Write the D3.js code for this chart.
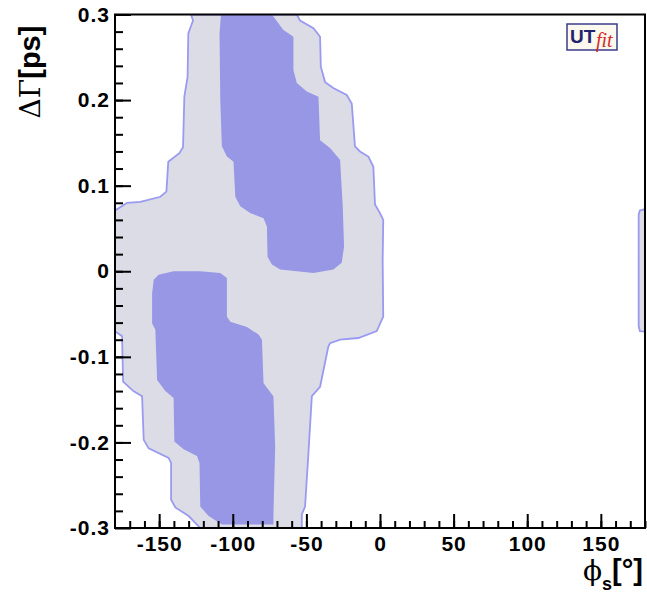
<!DOCTYPE html>
<html>
<head>
<meta charset="utf-8">
<script src="https://cdn.jsdelivr.net/npm/d3@7/dist/d3.min.js"></script>
<style>
  body { margin: 0; background: #fff; }
  text { font-family: "Liberation Sans", Arial, sans-serif; }
</style>
</head>
<body>
<div id="viz"></div>
<script>
// contour outlines as [phi_s (deg), DeltaGamma (ps^-1)]
var outerRegion = [
  [-128.4, 0.300], [-127.0, 0.293], [-130.2, 0.278], [-130.7, 0.227], [-132.9, 0.204],
  [-133.8, 0.145], [-136.3, 0.138], [-143.8, 0.128], [-145.1, 0.093], [-149.2, 0.087],
  [-162.8, 0.081], [-171.8, 0.080], [-179.0, 0.072], [-180, 0.071], [-180, -0.070],
  [-175.2, -0.076], [-174.5, -0.129], [-167.5, -0.140], [-161.6, -0.146], [-160.5, -0.197],
  [-157.1, -0.207], [-143.6, -0.218], [-141.9, -0.224], [-141.9, -0.267], [-139.0, -0.276],
  [-130.0, -0.286], [-123.2, -0.298], [-122.0, -0.300],
  [-53.1, -0.300], [-53.1, -0.284], [-50.9, -0.275], [-48.6, -0.212], [-46.3, -0.146],
  [-40.7, -0.135], [-35.1, -0.088], [-33.9, -0.084], [-27.1, -0.080], [-14.7, -0.078],
  [-2.2, -0.070], [2.2, -0.053], [1.8, 0.013], [2.2, 0.060], [0.0, 0.068],
  [-3.4, 0.078], [-4.5, 0.122], [-7.9, 0.134], [-13.6, 0.140], [-17.0, 0.146],
  [-19.2, 0.196], [-22.6, 0.206], [-31.7, 0.214], [-37.3, 0.221], [-40.2, 0.239],
  [-40.7, 0.274], [-45.2, 0.284], [-54.3, 0.293], [-56.5, 0.300]
];
var edgeRegion = [
  [180, 0.0725], [176.5, 0.071], [175.7, 0.066], [175.7, -0.064], [176.5, -0.070], [180, -0.0705]
];
var innerUpper = [
  [-108.0, 0.300], [-109.0, 0.278], [-108.5, 0.200], [-107.4, 0.146], [-104.0, 0.134],
  [-99.5, 0.128], [-98.3, 0.087], [-94.9, 0.076], [-88.2, 0.068], [-79.1, 0.062],
  [-76.8, 0.052], [-76.4, 0.017], [-73.4, 0.008], [-67.8, 0.002], [-45.2, -0.002],
  [-31.7, 0.002], [-26.0, 0.010], [-24.4, 0.029], [-25.3, 0.076], [-27.1, 0.130],
  [-33.9, 0.144], [-40.7, 0.153], [-41.8, 0.204], [-49.7, 0.210], [-56.5, 0.220],
  [-58.8, 0.235], [-58.8, 0.274], [-65.6, 0.282], [-73.4, 0.300]
];
var innerLower = [
  [-150.4, -0.004], [-153.7, -0.010], [-154.8, -0.026], [-154.8, -0.061], [-152.6, -0.068],
  [-151.4, -0.127], [-145.8, -0.140], [-140.2, -0.148], [-139.7, -0.199], [-133.4, -0.208],
  [-124.3, -0.216], [-122.6, -0.224], [-122.1, -0.275], [-116.4, -0.286], [-107.4, -0.296],
  [-72.4, -0.296], [-72.4, -0.286], [-71.2, -0.205], [-72.4, -0.146], [-79.1, -0.131],
  [-80.2, -0.080], [-82.5, -0.074], [-90.4, -0.065], [-101.7, -0.059], [-104.0, -0.053],
  [-104.0, -0.008], [-108.5, -0.002], [-122.1, 0.000], [-140.2, 0.000]
];

var xMajor = [-150, -100, -50, 0, 50, 100, 150];
var xLabels = ["-150", "-100", "-50", "0", "50", "100", "150"];
var xMinor = d3.range(-170, 181, 10);
var yMajor = [-0.3, -0.2, -0.1, 0, 0.1, 0.2, 0.3];
var yLabels = ["-0.3", "-0.2", "-0.1", "0", "0.1", "0.2", "0.3"];
var yMinor = d3.range(-14, 15).map(function (k) { return k * 0.02; });

var width = 647, height = 596;
var mLeft = 115, mRight = 645, mTop = 14.5, mBottom = 528;

var svg = d3.select("#viz").append("svg")
  .attr("width", width).attr("height", height);

var x = d3.scaleLinear().domain([-180, 180]).range([mLeft, mRight]);
var y = d3.scaleLinear().domain([-0.3, 0.3]).range([mBottom, mTop]);

var line = d3.line()
  .x(function (d) { return x(d[0]); })
  .y(function (d) { return y(d[1]); })
  .curve(d3.curveLinearClosed);

svg.append("defs").append("clipPath").attr("id", "frame")
  .append("rect").attr("x", mLeft).attr("y", mTop)
  .attr("width", mRight - mLeft).attr("height", mBottom - mTop);

var g = svg.append("g").attr("clip-path", "url(#frame)");

[outerRegion, edgeRegion].forEach(function (r) {
  g.append("path").attr("d", line(r))
    .attr("fill", "#dcdce6").attr("stroke", "#9a9af0").attr("stroke-width", 1.8);
});
[innerUpper, innerLower].forEach(function (r) {
  g.append("path").attr("d", line(r)).attr("fill", "#9797e6");
});

// axes with inward ticks
svg.append("g").attr("transform", "translate(0," + mBottom + ")")
  .call(d3.axisBottom(x).tickValues(xMinor).tickSize(-7).tickFormat(""));
svg.append("g").attr("transform", "translate(0," + mBottom + ")")
  .call(d3.axisBottom(x).tickValues(xMajor).tickSize(-14).tickPadding(8).tickSizeOuter(0)
    .tickFormat(function (d, i) { return xLabels[i]; }));

svg.append("g").attr("transform", "translate(" + mLeft + ",0)")
  .call(d3.axisLeft(y).tickValues(yMinor).tickSize(-8).tickFormat(""));
svg.append("g").attr("transform", "translate(" + mLeft + ",0)")
  .call(d3.axisLeft(y).tickValues(yMajor).tickSize(-16).tickPadding(5).tickSizeOuter(0)
    .tickFormat(function (d, i) { return yLabels[i]; }));

svg.selectAll(".domain").remove();
svg.selectAll(".tick line").attr("stroke", "#000").attr("stroke-width", 2);
svg.selectAll(".tick text").attr("fill", "#000")
  .style("font-family", "'Liberation Sans', Arial, sans-serif")
  .style("font-size", "21px").style("font-weight", "bold")
  .style("letter-spacing", "1px");

svg.append("rect").attr("x", mLeft).attr("y", mTop)
  .attr("width", mRight - mLeft).attr("height", mBottom - mTop)
  .attr("fill", "none").attr("stroke", "#000").attr("stroke-width", 2);

// axis titles
var yt = svg.append("text").attr("transform", "translate(40,72) rotate(-90)")
  .attr("text-anchor", "middle");
yt.append("tspan").style("font-family", "'DejaVu Serif', serif")
  .style("font-size", "28px").text("ΔΓ");
yt.append("tspan").style("font-size", "29px").style("font-weight", "bold").text("[ps]");

var xt = svg.append("text").attr("x", 643).attr("y", 580).attr("text-anchor", "end");
xt.append("tspan").style("font-family", "'DejaVu Serif', serif")
  .style("font-size", "28px").text("ϕ");
xt.append("tspan").attr("dy", 10).style("font-size", "18px").style("font-weight", "bold").text("s");
xt.append("tspan").attr("dy", -10).style("font-size", "29px").style("font-weight", "bold").text("[°]");

// UTfit logo
var logo = svg.append("g").attr("transform", "translate(567,24)");
logo.append("rect").attr("width", 50).attr("height", 26)
  .attr("fill", "#fbf8ee").attr("stroke", "#3b3b8c").attr("stroke-width", 1.5);
logo.append("text").attr("x", 3).attr("y", 19)
  .style("font-size", "19px").style("font-weight", "bold").attr("fill", "#23236e").text("UT");
logo.append("text").attr("x", 29).attr("y", 23)
  .style("font-family", "'Liberation Serif', serif").style("font-style", "italic")
  .style("font-size", "20px").attr("fill", "#d42a2a").text("fit");
</script>
</body>
</html>
